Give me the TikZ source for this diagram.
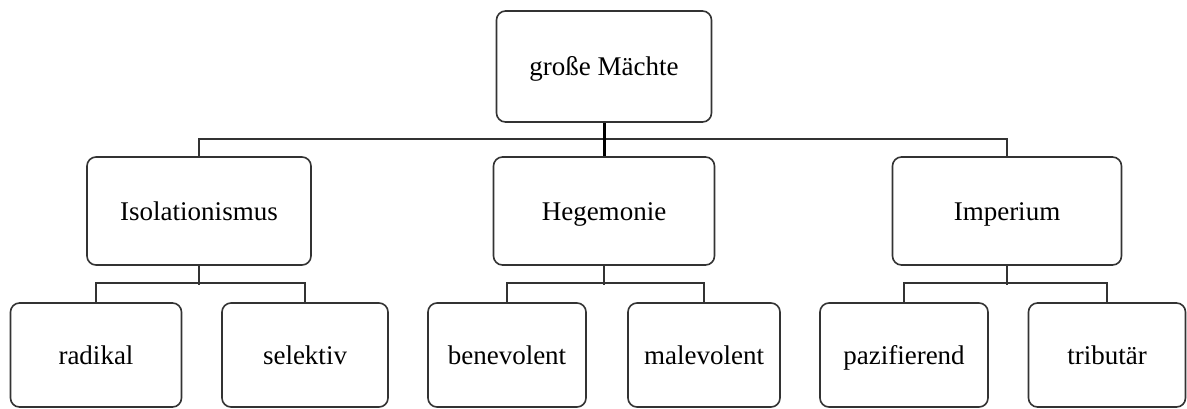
\documentclass[tikz,border=0pt]{standalone}
\usepackage{fontspec}
\setmainfont{Liberation Serif}
\usepackage{tikz}

\begin{document}
\begin{tikzpicture}[x=1pt,y=-1pt]
	\tikzstyle{Box}		= [rectangle, rounded corners=9pt, draw=black!80, line width=1.6pt, fill=white, inner sep=0pt, text height=18pt, text depth=0pt, font=\fontsize{27}{30}\selectfont]
	\tikzstyle{Link}	= [draw=black!80, line width=1.6pt]
	\tikzstyle{Trunk}	= [Link, line width=3pt, black]

	\useasboundingbox (0,0) rectangle (1187,408);

	\node (top) at (604,66.5) [Box, minimum width=215pt, minimum height=111pt] {große Mächte};
	\foreach \name/\x/\w/\txt in {iso/199/224/Isolationismus, heg/604/221/Hegemonie, imp/1007/229/Imperium}
		\node (\name) at (\x,211) [Box, minimum width=\w pt, minimum height=108pt] {\txt};
	\foreach \name/\x/\w/\txt in {rad/96/171/radikal, sel/305/166/selektiv, ben/507/158/benevolent, mal/704/152/malevolent, paz/904/168/pazifierend, tri/1107/157/tributär}
		\node (\name) at (\x,355) [Box, minimum width=\w pt, minimum height=104pt] {\txt};

	\draw [Link] (iso.north) -- ++(0,-17) -| (imp.north);
	\draw [Trunk] (top.south) -- (heg.north);
	\foreach \p/\a/\b in {iso/rad/sel, heg/ben/mal, imp/paz/tri} {
		\draw [Link] (\a.north) -- ++(0,-19) -| (\b.north);
		\draw [Link] (\p.south) -- ++(0,19);
	}
\end{tikzpicture}
\end{document}
